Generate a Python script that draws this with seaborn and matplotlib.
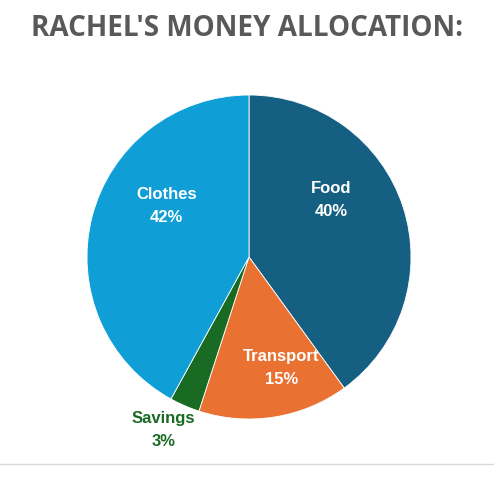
import matplotlib
matplotlib.use("Agg")
import matplotlib.pyplot as plt
import seaborn as sns
from matplotlib.lines import Line2D

sns.set_theme(style="white")
plt.rcParams["font.family"] = ["Open Sans", "DejaVu Sans"]

# Budget shares, clockwise from 12 o'clock
categories = ["Food", "Transport", "Savings", "Clothes"]
shares = [40, 15, 3, 42]
colors = ["#156082", "#E97132", "#196B24", "#0F9ED5"]
label_colors = ["white", "white", "#196B24", "white"]
# label anchor points in units of the pie radius
label_pos = [(0.51, 0.36), (0.20, -0.68), (-0.53, -1.06), (-0.51, 0.32)]

W, H = 494, 489
fig = plt.figure(figsize=(W / 100, H / 100), dpi=100)
fig.patch.set_facecolor("white")

cx, cy, r = 249, 258, 162
ax = fig.add_axes([(cx - r) / W, (H - cy - r) / H, 2 * r / W, 2 * r / H])
ax.set_aspect("equal")
ax.axis("off")

wedges, _ = ax.pie(shares, colors=colors, startangle=90, counterclock=False,
                   radius=1.0, center=(0, 0), frame=False,
                   wedgeprops=dict(edgecolor="white", linewidth=0.6))
ax.set_xlim(-1, 1)
ax.set_ylim(-1, 1)

for cat, val, (lx, ly), tc in zip(categories, shares, label_pos, label_colors):
    ax.text(lx, ly, f"{cat}\n{val}%", ha="center", va="center",
            color=tc, fontsize=12, fontweight="bold", linespacing=1.65,
            family=["Liberation Sans", "DejaVu Sans"], clip_on=False)

fig.text(0.5, 1 - 29 / H, "RACHEL'S MONEY ALLOCATION:", ha="center", va="center",
         fontsize=20.1, fontweight="bold", color="#595959")

fig.add_artist(Line2D([0, 1], [1 - 465 / H, 1 - 465 / H], transform=fig.transFigure,
                      color="#d9d9d9", linewidth=1.0))

fig.savefig("out.png", dpi=100, facecolor="white")
